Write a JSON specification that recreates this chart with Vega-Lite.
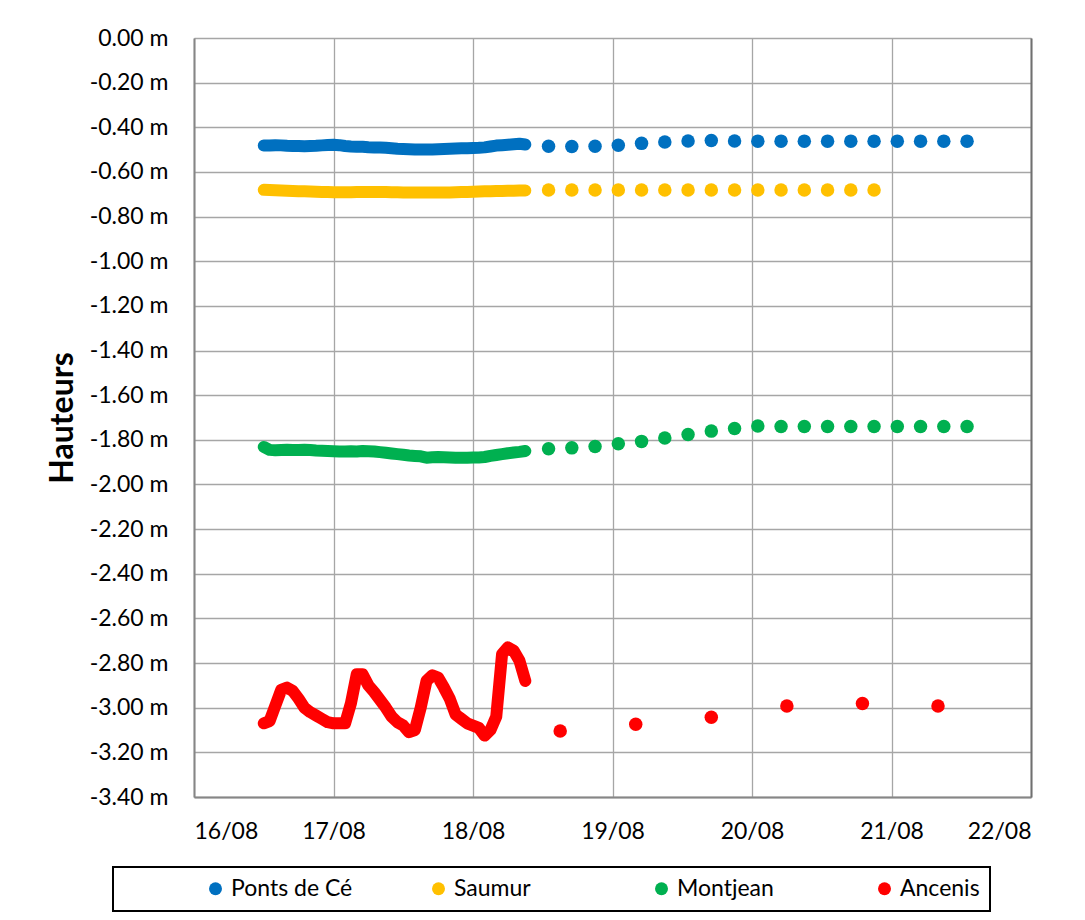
{
  "$schema": "https://vega.github.io/schema/vega-lite/v6.json",
  "autosize": {"type": "none"},
  "padding": {"left": 194, "top": 38, "right": 54, "bottom": 123},
  "width": 837,
  "height": 759,
  "background": "white",
  "datasets": {
    "obs": [
      {"t": "2023-08-16T12:00", "Ponts de Cé": -0.482, "Saumur": -0.680, "Montjean": -1.832, "Ancenis": -3.07},
      {"t": "2023-08-16T13:00", "Ponts de Cé": -0.482, "Saumur": -0.681, "Montjean": -1.845, "Ancenis": -3.06},
      {"t": "2023-08-16T14:00", "Ponts de Cé": -0.480, "Saumur": -0.682, "Montjean": -1.847, "Ancenis": -2.99},
      {"t": "2023-08-16T15:00", "Ponts de Cé": -0.481, "Saumur": -0.683, "Montjean": -1.846, "Ancenis": -2.92},
      {"t": "2023-08-16T16:00", "Ponts de Cé": -0.483, "Saumur": -0.684, "Montjean": -1.845, "Ancenis": -2.91},
      {"t": "2023-08-16T17:00", "Ponts de Cé": -0.484, "Saumur": -0.685, "Montjean": -1.846, "Ancenis": -2.925},
      {"t": "2023-08-16T18:00", "Ponts de Cé": -0.484, "Saumur": -0.686, "Montjean": -1.846, "Ancenis": -2.96},
      {"t": "2023-08-16T19:00", "Ponts de Cé": -0.485, "Saumur": -0.687, "Montjean": -1.845, "Ancenis": -3.00},
      {"t": "2023-08-16T20:00", "Ponts de Cé": -0.484, "Saumur": -0.688, "Montjean": -1.846, "Ancenis": -3.02},
      {"t": "2023-08-16T21:00", "Ponts de Cé": -0.483, "Saumur": -0.689, "Montjean": -1.848, "Ancenis": -3.035},
      {"t": "2023-08-16T22:00", "Ponts de Cé": -0.481, "Saumur": -0.690, "Montjean": -1.849, "Ancenis": -3.05},
      {"t": "2023-08-16T23:00", "Ponts de Cé": -0.479, "Saumur": -0.690, "Montjean": -1.850, "Ancenis": -3.065},
      {"t": "2023-08-17T00:00", "Ponts de Cé": -0.478, "Saumur": -0.691, "Montjean": -1.851, "Ancenis": -3.07},
      {"t": "2023-08-17T01:00", "Ponts de Cé": -0.480, "Saumur": -0.691, "Montjean": -1.852, "Ancenis": -3.07},
      {"t": "2023-08-17T02:00", "Ponts de Cé": -0.484, "Saumur": -0.691, "Montjean": -1.852, "Ancenis": -3.07},
      {"t": "2023-08-17T03:00", "Ponts de Cé": -0.486, "Saumur": -0.691, "Montjean": -1.851, "Ancenis": -2.98},
      {"t": "2023-08-17T04:00", "Ponts de Cé": -0.487, "Saumur": -0.690, "Montjean": -1.852, "Ancenis": -2.85},
      {"t": "2023-08-17T05:00", "Ponts de Cé": -0.487, "Saumur": -0.690, "Montjean": -1.850, "Ancenis": -2.85},
      {"t": "2023-08-17T06:00", "Ponts de Cé": -0.489, "Saumur": -0.690, "Montjean": -1.851, "Ancenis": -2.90},
      {"t": "2023-08-17T07:00", "Ponts de Cé": -0.490, "Saumur": -0.690, "Montjean": -1.852, "Ancenis": -2.93},
      {"t": "2023-08-17T08:00", "Ponts de Cé": -0.491, "Saumur": -0.690, "Montjean": -1.855, "Ancenis": -2.965},
      {"t": "2023-08-17T09:00", "Ponts de Cé": -0.492, "Saumur": -0.690, "Montjean": -1.858, "Ancenis": -3.00},
      {"t": "2023-08-17T10:00", "Ponts de Cé": -0.494, "Saumur": -0.691, "Montjean": -1.861, "Ancenis": -3.04},
      {"t": "2023-08-17T11:00", "Ponts de Cé": -0.496, "Saumur": -0.691, "Montjean": -1.864, "Ancenis": -3.065},
      {"t": "2023-08-17T12:00", "Ponts de Cé": -0.497, "Saumur": -0.692, "Montjean": -1.867, "Ancenis": -3.08},
      {"t": "2023-08-17T13:00", "Ponts de Cé": -0.498, "Saumur": -0.692, "Montjean": -1.870, "Ancenis": -3.11},
      {"t": "2023-08-17T14:00", "Ponts de Cé": -0.499, "Saumur": -0.692, "Montjean": -1.872, "Ancenis": -3.10},
      {"t": "2023-08-17T15:00", "Ponts de Cé": -0.500, "Saumur": -0.692, "Montjean": -1.874, "Ancenis": -3.00},
      {"t": "2023-08-17T16:00", "Ponts de Cé": -0.500, "Saumur": -0.692, "Montjean": -1.880, "Ancenis": -2.88},
      {"t": "2023-08-17T17:00", "Ponts de Cé": -0.499, "Saumur": -0.692, "Montjean": -1.878, "Ancenis": -2.855},
      {"t": "2023-08-17T18:00", "Ponts de Cé": -0.498, "Saumur": -0.692, "Montjean": -1.877, "Ancenis": -2.865},
      {"t": "2023-08-17T19:00", "Ponts de Cé": -0.497, "Saumur": -0.692, "Montjean": -1.878, "Ancenis": -2.91},
      {"t": "2023-08-17T20:00", "Ponts de Cé": -0.496, "Saumur": -0.692, "Montjean": -1.879, "Ancenis": -2.96},
      {"t": "2023-08-17T21:00", "Ponts de Cé": -0.495, "Saumur": -0.691, "Montjean": -1.880, "Ancenis": -3.03},
      {"t": "2023-08-17T22:00", "Ponts de Cé": -0.494, "Saumur": -0.690, "Montjean": -1.880, "Ancenis": -3.05},
      {"t": "2023-08-17T23:00", "Ponts de Cé": -0.494, "Saumur": -0.690, "Montjean": -1.880, "Ancenis": -3.07},
      {"t": "2023-08-18T00:00", "Ponts de Cé": -0.493, "Saumur": -0.689, "Montjean": -1.879, "Ancenis": -3.08},
      {"t": "2023-08-18T01:00", "Ponts de Cé": -0.492, "Saumur": -0.688, "Montjean": -1.879, "Ancenis": -3.09},
      {"t": "2023-08-18T02:00", "Ponts de Cé": -0.490, "Saumur": -0.687, "Montjean": -1.877, "Ancenis": -3.125},
      {"t": "2023-08-18T03:00", "Ponts de Cé": -0.486, "Saumur": -0.686, "Montjean": -1.872, "Ancenis": -3.10},
      {"t": "2023-08-18T04:00", "Ponts de Cé": -0.482, "Saumur": -0.685, "Montjean": -1.868, "Ancenis": -3.04},
      {"t": "2023-08-18T05:00", "Ponts de Cé": -0.480, "Saumur": -0.685, "Montjean": -1.864, "Ancenis": -2.76},
      {"t": "2023-08-18T06:00", "Ponts de Cé": -0.478, "Saumur": -0.684, "Montjean": -1.860, "Ancenis": -2.73},
      {"t": "2023-08-18T07:00", "Ponts de Cé": -0.476, "Saumur": -0.684, "Montjean": -1.857, "Ancenis": -2.745},
      {"t": "2023-08-18T08:00", "Ponts de Cé": -0.474, "Saumur": -0.683, "Montjean": -1.854, "Ancenis": -2.79},
      {"t": "2023-08-18T09:00", "Ponts de Cé": -0.477, "Saumur": -0.683, "Montjean": -1.850, "Ancenis": -2.88}
    ],
    "prev": [
      {"station": "Ponts de Cé", "t": "2023-08-18T13:00", "h": -0.485},
      {"station": "Ponts de Cé", "t": "2023-08-18T17:00", "h": -0.486},
      {"station": "Ponts de Cé", "t": "2023-08-18T21:00", "h": -0.485},
      {"station": "Ponts de Cé", "t": "2023-08-19T01:00", "h": -0.480},
      {"station": "Ponts de Cé", "t": "2023-08-19T05:00", "h": -0.472},
      {"station": "Ponts de Cé", "t": "2023-08-19T09:00", "h": -0.466},
      {"station": "Ponts de Cé", "t": "2023-08-19T13:00", "h": -0.461},
      {"station": "Ponts de Cé", "t": "2023-08-19T17:00", "h": -0.459},
      {"station": "Ponts de Cé", "t": "2023-08-19T21:00", "h": -0.461},
      {"station": "Ponts de Cé", "t": "2023-08-20T01:00", "h": -0.462},
      {"station": "Ponts de Cé", "t": "2023-08-20T05:00", "h": -0.462},
      {"station": "Ponts de Cé", "t": "2023-08-20T09:00", "h": -0.462},
      {"station": "Ponts de Cé", "t": "2023-08-20T13:00", "h": -0.462},
      {"station": "Ponts de Cé", "t": "2023-08-20T17:00", "h": -0.462},
      {"station": "Ponts de Cé", "t": "2023-08-20T21:00", "h": -0.462},
      {"station": "Ponts de Cé", "t": "2023-08-21T01:00", "h": -0.462},
      {"station": "Ponts de Cé", "t": "2023-08-21T05:00", "h": -0.462},
      {"station": "Ponts de Cé", "t": "2023-08-21T09:00", "h": -0.462},
      {"station": "Ponts de Cé", "t": "2023-08-21T13:00", "h": -0.462},
      {"station": "Saumur", "t": "2023-08-18T13:00", "h": -0.681},
      {"station": "Saumur", "t": "2023-08-18T17:00", "h": -0.681},
      {"station": "Saumur", "t": "2023-08-18T21:00", "h": -0.681},
      {"station": "Saumur", "t": "2023-08-19T01:00", "h": -0.681},
      {"station": "Saumur", "t": "2023-08-19T05:00", "h": -0.681},
      {"station": "Saumur", "t": "2023-08-19T09:00", "h": -0.681},
      {"station": "Saumur", "t": "2023-08-19T13:00", "h": -0.681},
      {"station": "Saumur", "t": "2023-08-19T17:00", "h": -0.681},
      {"station": "Saumur", "t": "2023-08-19T21:00", "h": -0.681},
      {"station": "Saumur", "t": "2023-08-20T01:00", "h": -0.681},
      {"station": "Saumur", "t": "2023-08-20T05:00", "h": -0.681},
      {"station": "Saumur", "t": "2023-08-20T09:00", "h": -0.681},
      {"station": "Saumur", "t": "2023-08-20T13:00", "h": -0.681},
      {"station": "Saumur", "t": "2023-08-20T17:00", "h": -0.681},
      {"station": "Saumur", "t": "2023-08-20T21:00", "h": -0.681},
      {"station": "Montjean", "t": "2023-08-18T13:00", "h": -1.840},
      {"station": "Montjean", "t": "2023-08-18T17:00", "h": -1.836},
      {"station": "Montjean", "t": "2023-08-18T21:00", "h": -1.830},
      {"station": "Montjean", "t": "2023-08-19T01:00", "h": -1.818},
      {"station": "Montjean", "t": "2023-08-19T05:00", "h": -1.807},
      {"station": "Montjean", "t": "2023-08-19T09:00", "h": -1.792},
      {"station": "Montjean", "t": "2023-08-19T13:00", "h": -1.776},
      {"station": "Montjean", "t": "2023-08-19T17:00", "h": -1.761},
      {"station": "Montjean", "t": "2023-08-19T21:00", "h": -1.749},
      {"station": "Montjean", "t": "2023-08-20T01:00", "h": -1.738},
      {"station": "Montjean", "t": "2023-08-20T05:00", "h": -1.740},
      {"station": "Montjean", "t": "2023-08-20T09:00", "h": -1.740},
      {"station": "Montjean", "t": "2023-08-20T13:00", "h": -1.740},
      {"station": "Montjean", "t": "2023-08-20T17:00", "h": -1.740},
      {"station": "Montjean", "t": "2023-08-20T21:00", "h": -1.740},
      {"station": "Montjean", "t": "2023-08-21T01:00", "h": -1.740},
      {"station": "Montjean", "t": "2023-08-21T05:00", "h": -1.740},
      {"station": "Montjean", "t": "2023-08-21T09:00", "h": -1.740},
      {"station": "Montjean", "t": "2023-08-21T13:00", "h": -1.740},
      {"station": "Ancenis", "t": "2023-08-18T15:00", "h": -3.104},
      {"station": "Ancenis", "t": "2023-08-19T04:00", "h": -3.074},
      {"station": "Ancenis", "t": "2023-08-19T17:00", "h": -3.043},
      {"station": "Ancenis", "t": "2023-08-20T06:00", "h": -2.992},
      {"station": "Ancenis", "t": "2023-08-20T19:00", "h": -2.981},
      {"station": "Ancenis", "t": "2023-08-21T08:00", "h": -2.992}
    ]
  },
  "layer": [
    {
      "data": {"name": "obs"},
      "transform": [
        {"fold": ["Ponts de Cé", "Saumur", "Montjean", "Ancenis"], "as": ["station", "h"]}
      ],
      "mark": {"type": "line", "strokeWidth": 12, "strokeCap": "round", "strokeJoin": "round"},
      "encoding": {
        "x": {
          "field": "t", "type": "temporal",
          "scale": {"domain": [{"year": 2023, "month": 8, "date": 16}, {"year": 2023, "month": 8, "date": 22}], "nice": false},
          "axis": {
            "title": null, "format": "%d/%m", "grid": true, "labelPadding": 23,
            "values": [{"year": 2023, "month": 8, "date": 16}, {"year": 2023, "month": 8, "date": 17}, {"year": 2023, "month": 8, "date": 18}, {"year": 2023, "month": 8, "date": 19}, {"year": 2023, "month": 8, "date": 20}, {"year": 2023, "month": 8, "date": 21}, {"year": 2023, "month": 8, "date": 22}]
          }
        },
        "y": {
          "field": "h", "type": "quantitative",
          "scale": {"domain": [-3.4, 0], "nice": false, "zero": false},
          "axis": {
            "title": "Hauteurs", "titleFontSize": 32, "titleFontWeight": "bold", "titleColor": "#000", "titlePadding": 10,
            "grid": true, "labelPadding": 26,
            "values": [0, -0.2, -0.4, -0.6, -0.8, -1.0, -1.2, -1.4, -1.6, -1.8, -2.0, -2.2, -2.4, -2.6, -2.8, -3.0, -3.2, -3.4],
            "labelExpr": "(datum.value < -0.0001 ? '-' : '') + format(abs(datum.value), '.2f') + ' m'"
          }
        },
        "stroke": {
          "field": "station", "type": "nominal",
          "scale": {"domain": ["Ancenis", "Montjean", "Ponts de Cé", "Saumur"], "range": ["#FF0000", "#00B050", "#0070C0", "#FFC000"]},
          "legend": null
        }
      }
    },
    {
      "data": {"name": "prev"},
      "mark": {"type": "circle", "size": 182, "opacity": 1},
      "encoding": {
        "x": {
          "field": "t", "type": "temporal",
          "scale": {"domain": [{"year": 2023, "month": 8, "date": 16}, {"year": 2023, "month": 8, "date": 22}], "nice": false},
          "axis": {
            "title": null, "format": "%d/%m", "grid": true, "labelPadding": 23,
            "values": [{"year": 2023, "month": 8, "date": 16}, {"year": 2023, "month": 8, "date": 17}, {"year": 2023, "month": 8, "date": 18}, {"year": 2023, "month": 8, "date": 19}, {"year": 2023, "month": 8, "date": 20}, {"year": 2023, "month": 8, "date": 21}, {"year": 2023, "month": 8, "date": 22}]
          }
        },
        "y": {
          "field": "h", "type": "quantitative",
          "scale": {"domain": [-3.4, 0], "nice": false, "zero": false},
          "axis": {"orient": "right", "title": null, "labels": false, "grid": false, "domainColor": "#707070"}
        },
        "color": {
          "field": "station", "type": "nominal",
          "scale": {"domain": ["Ponts de Cé", "Saumur", "Montjean", "Ancenis"], "range": ["#0070C0", "#FFC000", "#00B050", "#FF0000"]},
          "legend": {
            "title": " ", "titleOrient": "left", "titleFontSize": 8, "titlePadding": 10,
            "orient": "none", "legendX": -81, "legendY": 829,
            "direction": "horizontal", "columns": 4, "gridAlign": "all",
            "symbolType": "circle", "symbolSize": 169, "symbolOffset": 71, "labelOffset": 4,
            "columnPadding": 3, "padding": 10,
            "strokeColor": "#000",
            "labelFont": "Lato", "labelFontSize": 23, "labelColor": "#000", "labelLimit": 300
          }
        }
      }
    }
  ],
  "resolve": {"axis": {"y": "independent"}},
  "config": {
    "font": "Lato",
    "view": {"stroke": null},
    "legend": {"strokeWidth": 2},
    "axis": {
      "labelFont": "Lato", "labelFontSize": 23, "labelColor": "#000",
      "titleFont": "Lato",
      "gridColor": "#a6a6a6", "gridWidth": 1.3, "gridOpacity": 1,
      "domainColor": "#868686", "domainWidth": 2,
      "ticks": false, "tickSize": 0
    }
  }
}
